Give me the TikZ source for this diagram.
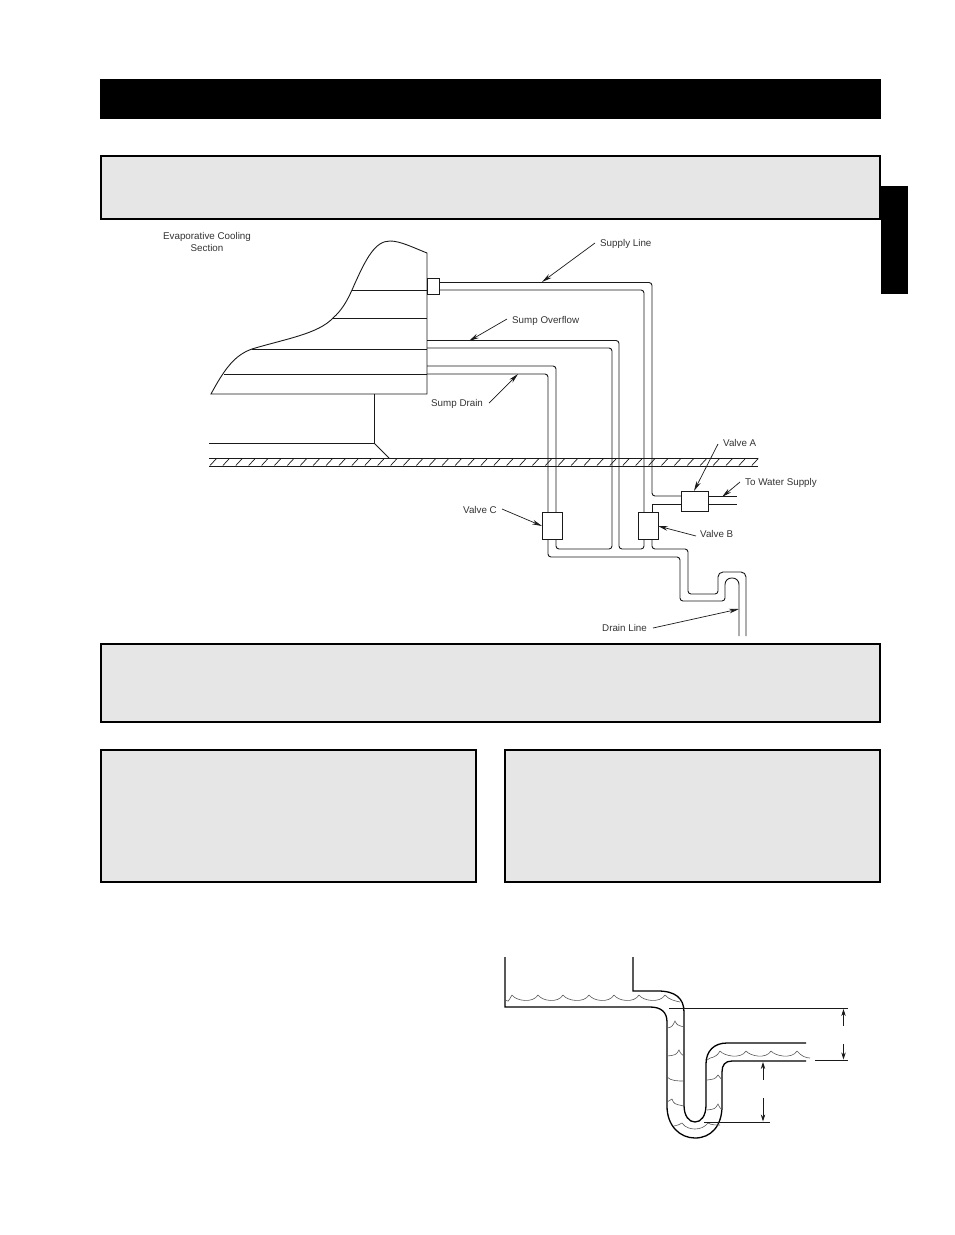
\documentclass[tikz,border=0pt]{standalone}
\usepackage{fontspec}
\setmainfont{Liberation Sans}
\usetikzlibrary{arrows.meta}
\definecolor{panel}{HTML}{E6E6E6}
\definecolor{ink}{HTML}{1A1A1A}
\tikzset{
  panelbox/.style={draw=black,line width=2pt,fill=panel},
  solidbar/.style={fill=black},
  line/.style={draw=ink,line width=0.9pt},
  pipe/.style={draw=ink,line width=0.9pt,rounded corners=3pt},
  valvebox/.style={draw=ink,line width=1pt,fill=white,inner sep=0pt,anchor=north west},
  lab/.style={font=\fontsize{9.8}{11.6}\selectfont,text=black!80,inner sep=0pt,align=center},
  callout/.style={draw=ink,line width=0.7pt,-{Stealth[length=10pt,width=4.6pt]}},
  dim/.style={draw=ink,line width=0.8pt,-{Stealth[length=7pt,width=4.4pt]}},
  trap/.style={draw=black,line width=1.3pt},
  water/.style={draw=black!65,line width=0.6pt},
  hatch/.style={draw=ink,line width=0.7pt}
}
\begin{document}
\begin{tikzpicture}[x=1pt,y=-1pt]
\useasboundingbox (0,0) rectangle (954,1235);
\fill[white] (0,0) rectangle (954,1235);
% panels
\path[solidbar] (100,79) rectangle (881,119);
\path[solidbar] (881,186) rectangle (908,294);
\path[panelbox] (101,156) rectangle (880,219);
\path[panelbox] (101,644) rectangle (880,722);
\path[panelbox] (101,750) rectangle (475.5,882);
\path[panelbox] (505,750) rectangle (880,882);
% cooling section
\draw[line] (211,394) .. controls (225,368) and (235,355) .. (252,349)
  .. controls (285,339) and (318,334) .. (333,318)
  .. controls (342,310) and (347,301) .. (352,290)
  .. controls (366,258) and (375,241) .. (390,241)
  .. controls (400,241) and (412,247) .. (427,253) -- (427,394) -- cycle;
\draw[line] (352,290) -- (427,290);
\draw[line] (333,318) -- (427,318);
\draw[line] (252,349) -- (427,349);
\draw[line] (224,374.5) -- (427,374.5);
\draw[line] (374,394) -- (374,443) -- (209,443);
\draw[line] (374,443) -- (389,458);
% pipes
\draw[pipe] (427,282.5) -- (652,282.5) -- (652,496) [sharp corners] -- (681,496);
\draw[pipe] (427,290) -- (644,290) -- (644,512);
\draw[line] (681,504) -- (652,504) -- (652,512);
\draw[line] (708,496) -- (737,496);
\draw[line] (708,504) -- (737,504);
\draw[pipe] (427,340.5) -- (619,340.5) -- (619,549) -- (644,549) -- (644,539);
\draw[pipe] (427,348) -- (612,348) -- (612,549) -- (556,549) -- (556,539);
\draw[pipe] (427,366) -- (556,366) -- (556,512);
\draw[pipe] (427,374) -- (548,374) -- (548,512);
\draw[pipe] (548,539) -- (548,557) -- (680,557) -- (680,601) -- (725,601) [rounded corners=6.5pt] -- (725,578) -- (739,578) -- (739,636);
\draw[pipe] (652,539) -- (652,549) -- (688,549) -- (688,594) -- (718,594) [rounded corners=5pt] -- (718,572) -- (746,572) -- (746,636);
% floor
\draw[line] (209,458) -- (758,458);
\draw[line] (209,466) -- (758,466);
\foreach \hx in {0,...,42} {\draw[hatch] ({210+\hx*12.9},465.5) -- ({216.5+\hx*12.9},458.5);}
% fitting and valves
\node[valvebox,minimum width=12pt,minimum height=16pt] (fit) at (427,278) {};
\node[valvebox,minimum width=27pt,minimum height=20pt] (valveA) at (681,491) {};
\node[valvebox,minimum width=20pt,minimum height=27pt] (valveB) at (638,512) {};
\node[valvebox,minimum width=20pt,minimum height=27pt] (valveC) at (542,512) {};
% labels
\node[lab] (tEvap) at (207,242) {Evaporative Cooling\\Section};
\node[lab,anchor=west] (tSupply) at (600,244) {Supply Line};
\node[lab,anchor=west] (tOver) at (512,320.5) {Sump Overflow};
\node[lab,anchor=west] (tDrain) at (431,403.5) {Sump Drain};
\node[lab,anchor=west] (tA) at (723,443) {Valve A};
\node[lab,anchor=west] (tWater) at (745,483) {To Water Supply};
\node[lab,anchor=west] (tB) at (700,534) {Valve B};
\node[lab,anchor=west] (tC) at (463,510) {Valve C};
\node[lab,anchor=west] (tLine) at (602,628) {Drain Line};
% callout ends
\coordinate (eSupply) at (542,282);
\coordinate (eOver) at (469,341);
\coordinate (eDrain) at (518,374);
\coordinate (eWater) at (722,497);
\coordinate (eB) at (658,526);
\coordinate (eC) at (542,526);
\coordinate (eA) at (694,491);
\coordinate (eLine) at (739,609);
\draw[callout] (595,243) -- (eSupply);
\draw[callout] (507,319) -- (eOver);
\draw[callout] (489,403) -- (eDrain);
\draw[callout] (718,444) -- (eA);
\draw[callout] (740,482) -- (eWater);
\draw[callout] (696,536) -- (eB);
\draw[callout] (502,509) -- (eC);
\draw[callout] (653,628) -- (eLine);
% trap
\draw[trap] (505,957) -- (505,1007) -- (650,1007) .. controls (661,1007) and (667,1012) .. (667,1022)
  -- (667,1106) .. controls (667,1126) and (680,1138) .. (695,1138)
  .. controls (711,1138) and (722,1126) .. (722,1106)
  -- (722,1072) .. controls (722,1065) and (725,1061) .. (732,1061) -- (806,1061);
\draw[trap] (633,957) -- (633,991) -- (658,991) .. controls (675,991) and (684,998) .. (684,1012)
  -- (684,1105) .. controls (684,1116) and (689,1122) .. (695,1122)
  .. controls (701,1122) and (706,1116) .. (706,1105)
  -- (706,1064) .. controls (706,1051) and (714,1043) .. (727,1043) -- (806,1043);
% water surfaces
\foreach \ax/\ay/\bx/\by in {
  505/1000/512/995, 512/995/538/995, 538/995/563/995, 563/995/589/995, 589/995/614/995,
  614/995/639/995, 639/995/665/995}
  {\draw[water] (\ax,\ay) .. controls ({\ax+4},{\by+6}) and ({\bx-5},{\by+8.5}) .. (\bx,\by);}
\draw[water] (665,995) .. controls (669,1000) and (676,1001) .. (680,1002);
\foreach \ax/\ay/\bx/\by in {707/1060/720/1051, 720/1051/746/1051, 746/1051/771/1051, 771/1051/797/1051}
  {\draw[water] (\ax,\ay) .. controls ({\ax+4},{\by+5}) and ({\bx-5},{\by+8.5}) .. (\bx,\by);}
\draw[water] (797,1051) .. controls (801,1056) and (806,1058) .. (810,1058);
\foreach \ax/\ay/\cx/\cy/\bx/\by in {
  667/1028/675/1021/684/1027, 667/1056/679/1050/684/1056, 707/1080/718/1075/722/1080,
  707/1110/718/1104/722/1110, 667/1102/672/1099/684/1106}
  {\draw[water] (\ax,\ay) .. controls ({\cx-3},{\ay-1}) .. (\cx,\cy) .. controls ({\cx+2},{\by-2}) .. (\bx,\by);}
\draw[water] (667,1077) .. controls (671,1081) and (678,1081) .. (684,1081);
\draw[water] (674,1126) .. controls (677,1125) and (680,1125) .. (682,1123)
  .. controls (685,1128) and (692,1129) .. (695,1129)
  .. controls (700,1129) and (705,1127) .. (708,1123)
  .. controls (711,1125) and (716,1125) .. (720,1125);
% dimension lines
\coordinate (d1a) at (669,1008); \coordinate (d1b) at (848,1008);
\coordinate (d2a) at (815,1060); \coordinate (d2b) at (848,1060);
\coordinate (d3a) at (704,1122); \coordinate (d3b) at (770,1122);
\draw[line] (d1a) -- (d1b);
\draw[line] (d2a) -- (d2b);
\draw[line] (d3a) -- (d3b);
\coordinate (g1) at (843.5,1009); \coordinate (g2) at (843.5,1059.5);
\coordinate (g3) at (763,1062); \coordinate (g4) at (763,1121.5);
\draw[dim] (843.5,1026) -- (g1);
\draw[dim] (843.5,1044) -- (g2);
\draw[dim] (763,1080) -- (g3);
\draw[dim] (763,1098) -- (g4);
\end{tikzpicture}
\end{document}
